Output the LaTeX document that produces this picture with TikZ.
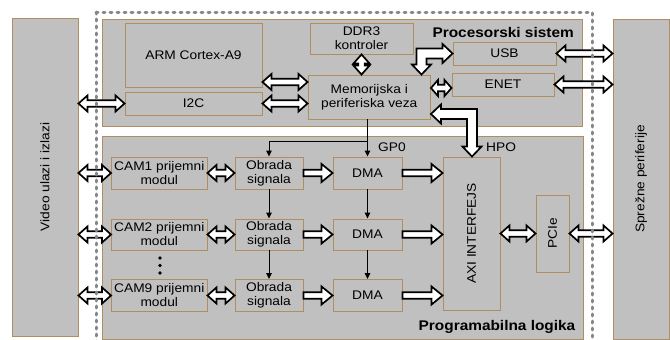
\documentclass[tikz,border=0pt]{standalone}
\usepackage{fontspec}
\setmainfont{Liberation Sans}[FakeStretch=1.1]
\usetikzlibrary{calc,arrows.meta}

\definecolor{boxgray}{RGB}{192,192,192}
\definecolor{tanline}{RGB}{176,142,96}
\definecolor{dashgray}{RGB}{135,135,135}

% hollow block arrows between two points: \ahl head length, \ahw head half width, \asw shaft half width
\def\ahl{9pt}\def\ahw{8pt}\def\asw{3.3pt}
\newcommand{\hollowdouble}[2]{%
  \draw[hollow] (#1)
    -- ($(#1)!\ahl!(#2)!\ahw!90:(#2)$) -- ($(#1)!\ahl!(#2)!\asw!90:(#2)$)
    -- ($(#2)!\ahl!(#1)!\asw!-90:(#1)$) -- ($(#2)!\ahl!(#1)!\ahw!-90:(#1)$)
    -- (#2)
    -- ($(#2)!\ahl!(#1)!\ahw!90:(#1)$) -- ($(#2)!\ahl!(#1)!\asw!90:(#1)$)
    -- ($(#1)!\ahl!(#2)!\asw!-90:(#2)$) -- ($(#1)!\ahl!(#2)!\ahw!-90:(#2)$)
    -- cycle;}
\newcommand{\hollowsingle}[2]{%
  \draw[hollow] ($(#1)!\asw!90:(#2)$)
    -- ($(#2)!\ahl!(#1)!\asw!-90:(#1)$) -- ($(#2)!\ahl!(#1)!\ahw!-90:(#1)$)
    -- (#2)
    -- ($(#2)!\ahl!(#1)!\ahw!90:(#1)$) -- ($(#2)!\ahl!(#1)!\asw!90:(#1)$)
    -- ($(#1)!\asw!-90:(#2)$) -- cycle;}

\begin{document}
\begin{tikzpicture}[x=1pt,y=-1pt,
  lab/.style={font=\fontsize{12.5}{14}\selectfont},
  blk/.style={draw=tanline, fill=boxgray, line width=0.9pt, inner sep=0pt,
              align=center, lab},
  region/.style={draw=tanline, fill=boxgray, line width=0.9pt},
  hollow/.style={draw=black, fill=white, line width=1.7pt, line join=miter},
  thinarrow/.style={draw=black, line width=1pt, -{Triangle[length=6pt,width=5.5pt]}},
  title/.style={font=\fontsize{14}{16}\selectfont\bfseries, inner sep=0pt},
  tag/.style={lab, inner sep=0pt}]

\useasboundingbox (0,0) rectangle (670,340);
\clip (0,0) rectangle (670,340);

% outer blocks
\node[blk, minimum width=66pt, minimum height=318pt] (video) at (45,177) {};
\node[lab, rotate=90] at (video.center) {Video ulazi i izlazi};
\node[blk, minimum width=56pt, minimum height=320pt] (sprez) at (641,179) {};
\node[lab, rotate=90] at (sprez.center) {Sprežne periferije};

% processing system and programmable logic regions
\node[region, minimum width=480pt, minimum height=107pt, inner sep=0pt] (ps) at (342,72.5) {};
\node[region, minimum width=481pt, minimum height=203pt, inner sep=0pt] (pl) at (342.5,237.5) {};
\node[title, anchor=east] (pstitle) at (574,32.5) {Procesorski sistem};
\node[title, anchor=base east] (pltitle) at (575.5,330) {Programabilna logika};

% processing system blocks
\node[blk, minimum width=137pt, minimum height=64pt] (arm) at (193.5,55) {ARM Cortex-A9};
\node[blk, minimum width=137pt, minimum height=23pt] (i2c) at (193.5,103.5) {I2C};
\node[blk, minimum width=103pt, minimum height=31pt] (ddr) at (361.5,38.5) {DDR3\\kontroler};
\node[blk, minimum width=122.5pt, minimum height=44pt] (mem) at (369.25,97) {Memorijska i\\periferiska veza};
\node[blk, minimum width=103pt, minimum height=23pt] (usb) at (504.5,53.5) {USB};
\node[blk, minimum width=102pt, minimum height=23pt] (enet) at (503,84.5) {ENET};

% programmable logic blocks
\node[blk, minimum width=95.5pt, minimum height=32pt] (cam1) at (159.25,173) {CAM1 prijemni\\modul};
\node[blk, minimum width=95.5pt, minimum height=31pt] (cam2) at (159.25,234.5) {CAM2 prijemni\\modul};
\node[blk, minimum width=95.5pt, minimum height=32pt] (cam9) at (159.25,295.5) {CAM9 prijemni\\modul};
\node[blk, minimum width=68pt, minimum height=32pt] (ob1) at (269,173) {Obrada\\signala};
\node[blk, minimum width=68pt, minimum height=31pt] (ob2) at (269,234.5) {Obrada\\signala};
\node[blk, minimum width=68pt, minimum height=32pt] (ob3) at (269,295.5) {Obrada\\signala};
\node[blk, minimum width=69pt, minimum height=32pt] (dma1) at (367.5,173) {DMA};
\node[blk, minimum width=69pt, minimum height=31pt] (dma2) at (367.5,234.5) {DMA};
\node[blk, minimum width=69pt, minimum height=32pt] (dma3) at (367.5,295.5) {DMA};
\node[blk, minimum width=57pt, minimum height=153pt] (axi) at (471.5,233.5) {};
\node[lab, rotate=90] at (axi.center) {AXI INTERFEJS};
\node[blk, minimum width=33pt, minimum height=77pt] (pcie) at (552.5,233.5) {};
\node[lab, rotate=90] at (pcie.center) {PCIe};

% dots between camera modules
\foreach \yy in {258,265.5,273} \fill (160,\yy) circle (1.9pt);

% bus labels
\node[tag, anchor=base west] (gp0) at (378,151.7) {GP0};
\node[tag, anchor=base west] (hpo) at (486,151.7) {HPO};

% control path from the interconnect
\coordinate (gp) at (dma1.north |- 0,141);
\draw[thinarrow] (dma1.north |- mem.south) -- (dma1.north);
\draw[thinarrow] (gp) -| (ob1.north);
\draw[thinarrow] (ob1.south) -- (ob2.north);
\draw[thinarrow] (ob2.south) -- (ob3.north);
\draw[thinarrow] (dma1.south) -- (dma2.north);
\draw[thinarrow] (dma2.south) -- (dma3.north);

% hollow double arrows
\coordinate (am1) at (arm.east |- 0,82);
\coordinate (am2) at (mem.west |- 0,82);
\hollowdouble{am1}{am2}
\coordinate (im) at (mem.west |- i2c.east);
\hollowdouble{i2c.east}{im}
\coordinate (vi) at (video.east |- i2c.west);
\hollowdouble{vi}{i2c.west}
\coordinate (dm) at (ddr.south |- mem.north);
\hollowdouble{ddr.south}{dm}
\coordinate (me1) at (mem.east |- 0,88);
\coordinate (me2) at (enet.west |- 0,88);
{\def\ahl{7pt}\hollowdouble{me1}{me2}}
\coordinate (us) at (sprez.west |- usb.east);
\hollowdouble{usb.east}{us}
\coordinate (es) at (sprez.west |- enet.east);
\hollowdouble{enet.east}{es}
\foreach \c in {cam1,cam2,cam9}{
  \coordinate (vc) at (video.east |- \c.west);
  \hollowdouble{vc}{\c.west}
}
\hollowdouble{cam1.east}{ob1.west}
\hollowdouble{cam2.east}{ob2.west}
\hollowdouble{cam9.east}{ob3.west}
\coordinate (ap) at (axi.east |- pcie.west);
\hollowdouble{ap}{pcie.west}
\coordinate (ps2) at (sprez.west |- pcie.east);
\hollowdouble{pcie.east}{ps2}

% hollow single arrows
{\def\ahl{11pt}\def\ahw{9pt}
\hollowsingle{ob1.east}{dma1.west}
\hollowsingle{ob2.east}{dma2.west}
\hollowsingle{ob3.east}{dma3.west}
\foreach \d in {dma1,dma2,dma3}{
  \coordinate (da) at (axi.west |- \d.east);
  \hollowsingle{\d.east}{da}
}}

% bent arrow between USB and the interconnect
\coordinate (ub) at (421.5,53.5);
\draw[hollow] (usb.west) -- ++(-10,-9.5) -- ++(0,4.5)
  -| ($(ub |- mem.north)+(-5,-10)$) -- ++(-4.5,0) -- (ub |- mem.north)
  -- ++(9.5,-10) -- ++(-4.5,0) |- ($(usb.west)+(-10,5)$) -- ++(0,4.5) -- cycle;

% bent HP port arrow between the interconnect and AXI
\coordinate (h1) at (mem.east |- 0,114);
\coordinate (hb) at (472,114);
\draw[hollow] (h1) -- ++(10,-9.5) -- ++(0,4.5)
  -| ($(hb |- axi.north)+(5,-10)$) -- ++(4.5,0) -- (hb |- axi.north)
  -- ++(-9.5,-10) -- ++(4.5,0) |- ($(h1)+(10,5)$) -- ++(0,4.5) -- cycle;

% dashed chip boundary
\draw[draw=dashgray, line width=3pt, line cap=round, dash pattern=on 2pt off 5pt]
  (96,12) -- (592,12) -- (592,350) (96,12) -- (96,350);
\end{tikzpicture}
\end{document}
